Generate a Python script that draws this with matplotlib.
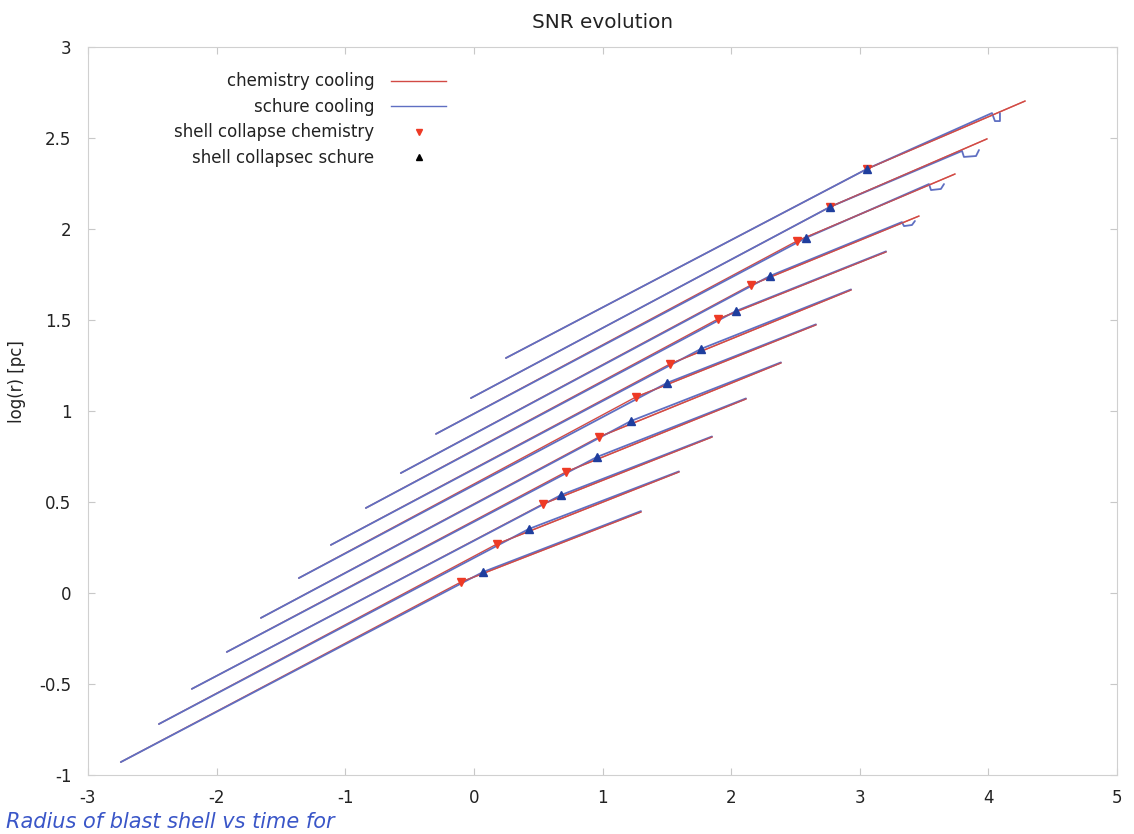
import matplotlib
matplotlib.use("Agg")
import matplotlib.pyplot as plt
from matplotlib.lines import Line2D

# one entry per supernova run
# chemistry cooling: start -> collapse -> end
chem_x = [
    [-2.745, -0.101, 1.299],
    [-2.449, 0.179, 1.594],
    [-2.193, 0.537, 1.851],
    [-1.921, 0.715, 2.115],
    [-1.656, 0.972, 2.387],
    [-1.361, 1.260, 2.659],
    [-1.112, 1.524, 2.932],
    [-0.840, 1.897, 3.204],
    [-0.568, 2.154, 3.460],
    [-0.295, 2.512, 3.740],
    [-0.023, 2.768, 3.989],
    [0.249, 3.056, 4.285],
]
chem_y = [
    [-0.929, 0.060, 0.445],
    [-0.720, 0.269, 0.665],
    [-0.527, 0.489, 0.857],
    [-0.324, 0.665, 1.066],
    [-0.137, 0.857, 1.264],
    [0.082, 1.077, 1.473],
    [0.264, 1.258, 1.665],
    [0.467, 1.505, 1.874],
    [0.659, 1.692, 2.071],
    [0.874, 1.934, 2.302],
    [1.071, 2.121, 2.495],
    [1.291, 2.330, 2.703],
]

# schure cooling: start -> collapse -> end (with the small glitch at the end)
schure_x = [
    [-2.745, 0.070, 1.299],
    [-2.449, 0.428, 1.594],
    [-2.193, 0.677, 1.851],
    [-1.921, 0.956, 2.115],
    [-1.656, 1.221, 2.387],
    [-1.361, 1.501, 2.659],
    [-1.112, 1.765, 2.932],
    [-0.840, 2.037, 3.204],
    [-0.568, 2.302, 3.328, 3.344, 3.406, 3.429],
    [-0.295, 2.582, 3.538, 3.554, 3.631, 3.655],
    [-0.023, 2.768, 3.795, 3.810, 3.904, 3.927],
    [0.249, 3.056, 4.028, 4.051, 4.090, 4.090],
]
schure_y = [
    [-0.929, 0.115, 0.450],
    [-0.720, 0.352, 0.668],
    [-0.527, 0.538, 0.860],
    [-0.324, 0.747, 1.069],
    [-0.137, 0.945, 1.267],
    [0.082, 1.154, 1.476],
    [0.264, 1.341, 1.668],
    [0.467, 1.549, 1.877],
    [0.659, 1.742, 2.038, 2.016, 2.022, 2.044],
    [0.874, 1.951, 2.247, 2.214, 2.220, 2.247],
    [1.071, 2.121, 2.429, 2.396, 2.401, 2.434],
    [1.291, 2.330, 2.637, 2.593, 2.593, 2.637],
]

chem_collapse_x = [row[1] for row in chem_x]
chem_collapse_y = [row[1] for row in chem_y]
schure_collapse_x = [row[1] for row in schure_x]
schure_collapse_y = [row[1] for row in schure_y]

xticks = [-3, -2, -1, 0, 1, 2, 3, 4, 5]
yticks = [-1, -0.5, 0, 0.5, 1, 1.5, 2, 2.5, 3]

red = '#d24a44'
blue = '#5f6fc2'

plt.rcParams['font.family'] = ['DejaVu Sans']
plt.rcParams['font.size'] = 12

fig = plt.figure(figsize=(11.34, 8.34), dpi=100)
ax = fig.add_axes([88 / 1134, 1 - 775 / 834, (1117 - 88) / 1134, (775 - 47) / 834])

for xs, ys in zip(chem_x, chem_y):
    ax.plot(xs, ys, color=red, linewidth=1.0, solid_capstyle='round')
for xs, ys in zip(schure_x, schure_y):
    ax.plot(xs, ys, color=blue, linewidth=1.3, solid_capstyle='round')
# chemistry tail stays visible on top after the collapse
for xs, ys in zip(chem_x, chem_y):
    ax.plot(xs[1:], ys[1:], color=red, linewidth=1.0, alpha=0.75)

ax.plot(chem_collapse_x, chem_collapse_y, linestyle='none', marker='v',
        markersize=5.5, color='#ee3a25')
ax.plot(schure_collapse_x, schure_collapse_y, linestyle='none', marker='^',
        markersize=5.5, color='#1f3e9e')

ax.set_xlim(-3, 5)
ax.set_ylim(-1, 3)
ax.set_xticks(xticks)
ax.set_xticklabels([str(t) for t in xticks])
ax.set_yticks(yticks)
ax.set_yticklabels(['%g' % t for t in yticks])
ax.tick_params(direction='in', top=True, right=True, length=5, color='#c8c8c8',
               labelcolor='#222222')
ax.tick_params(axis='x', pad=10)
ax.tick_params(axis='y', pad=12)
for s in ax.spines.values():
    s.set_color('#d0d0d0')
    s.set_linewidth(0.8)

ax.set_ylabel('log(r) [pc]', color='#222222')
ax.yaxis.set_label_coords(-0.06, 0.54)
ax.set_title('SNR evolution', pad=14, color='#222222')

handles = [
    Line2D([], [], color=red, linewidth=1.0),
    Line2D([], [], color=blue, linewidth=1.0),
    Line2D([], [], linestyle='none', marker='v', markersize=5, color='#ee3a25'),
    Line2D([], [], linestyle='none', marker='^', markersize=5, color='black'),
]
labels = ['chemistry cooling', 'schure cooling', 'shell collapse chemistry',
          'shell collapsec schure']
leg = ax.legend(handles, labels, loc='upper left', markerfirst=False,
                frameon=False, borderpad=0, handlelength=3.3, handletextpad=1.0,
                labelspacing=0.45, bbox_to_anchor=(166 / 1134, 1 - 64 / 834),
                bbox_transform=fig.transFigure)
for t in leg.get_texts():
    t.set_color('#222222')

# handwritten note at the bottom of the scan
fig.text(0.005, 0.002, 'Radius of blast shell vs time for', color='#3a56c8',
         fontsize=15, style='italic', va='bottom', ha='left')

fig.savefig('out.png', dpi=100)
